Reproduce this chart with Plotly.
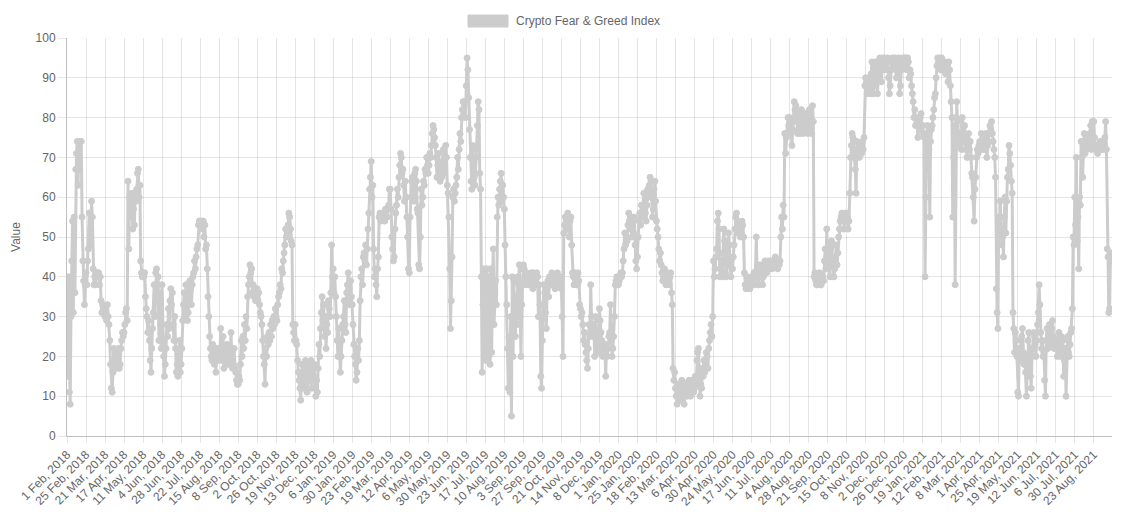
import pandas as pd
import plotly.graph_objects as go

# Daily Crypto Fear & Greed Index values.
# Each row holds 24 consecutive days (one x-axis label interval).
fng_2018 = [
    30,15,40,11,8,30,44,54,31,55,36,67,71,74,63,74,67,74,74,55,44,39,33,38,
    41,38,44,47,56,48,52,59,55,42,38,40,38,41,40,41,41,38,40,34,31,33,32,31,
    30,31,29,33,30,28,24,18,12,11,16,22,17,21,17,20,18,22,17,18,22,24,26,25,
    26,28,31,32,29,64,47,60,58,55,61,52,57,53,60,59,62,66,67,60,63,44,41,40,
    41,40,41,35,32,30,26,29,24,19,16,22,27,31,38,30,41,42,38,40,24,36,28,22,
    38,24,20,15,18,22,28,25,32,27,34,37,33,36,28,24,30,22,16,18,15,20,24,16,
    18,22,29,33,36,30,38,36,29,31,34,39,37,33,38,40,41,44,42,45,47,48,53,54,
    54,53,54,52,54,50,53,47,48,42,35,30,25,22,20,19,23,21,18,20,16,22,19,21,
    22,20,27,19,22,25,17,21,19,22,23,18,20,22,18,26,20,17,18,22,17,16,14,13,
    13,15,14,18,24,20,25,22,28,24,30,27,35,38,40,43,41,42,36,38,35,37,34,36,
    37,34,36,33,31,30,28,24,20,18,13,22,20,25,23,26,24,28,25,29,27,30,28,32,
    30,29,33,35,36,38,37,42,41,44,46,48,52,50,51,53,56,55,52,49,48,28,26,24,
    28,24,23,19,16,14,12,9,15,18,12,14,17,19,13,11,16,18,14,15,19,12,17,15,
    18,12,10,14,11,17,23,20,27,31,35,29,33,25,30,22,28,26,34,32,30,36,48,40,
]
fng_2019 = [
    42,36,40,35,30,24,20,27,22,16,20,24,28,30,34,28,26,36,38,41,37,33,39,35,
    33,28,23,20,18,14,16,22,19,24,34,40,42,38,45,46,44,48,43,47,52,56,62,65,
    69,60,63,47,40,42,38,35,42,45,55,56,54,55,55,55,56,54,57,55,55,57,58,62,
    62,57,50,47,44,45,52,56,58,62,60,65,68,71,70,66,67,63,59,64,60,55,50,42,
    41,55,60,64,65,62,59,66,67,64,57,56,43,42,50,62,58,60,64,63,67,66,70,68,
    66,68,71,70,73,76,78,77,75,73,70,65,68,71,66,64,67,65,69,72,66,70,73,70,
    63,61,55,42,27,34,45,60,62,59,61,63,65,70,67,72,76,74,80,82,84,81,84,80,
    88,95,92,85,77,70,64,62,73,68,65,63,70,72,78,84,82,66,62,40,16,33,42,20,
    38,19,42,36,20,40,18,42,21,38,47,28,36,39,33,55,60,58,62,64,66,59,63,60,
    57,48,40,33,22,12,25,11,30,5,40,20,39,30,25,35,28,40,38,43,30,20,33,42,
    43,42,40,38,41,40,39,38,40,38,41,40,37,41,39,40,38,41,40,30,38,33,15,12,
    24,33,38,36,31,27,37,39,35,40,38,39,41,38,39,40,37,38,39,41,40,38,40,38,
    37,30,20,51,53,55,54,52,56,53,50,54,55,48,41,40,38,41,40,38,38,41,39,33,
    32,30,31,28,24,26,23,21,19,17,22,28,25,38,30,27,25,28,20,30,26,22,24,21,
    32,29,26,24,20,22,23,21,15,23,20,22,25,26,33,24,20,22,25,30,38,39,40,38,
]
fng_2020 = [
    38,39,40,41,40,41,44,47,51,48,50,49,53,56,54,52,55,50,53,51,55,48,44,42,
    45,50,54,56,53,58,55,57,61,58,56,54,58,62,60,63,65,64,60,55,57,62,64,59,
    54,52,50,47,44,46,43,41,39,40,42,40,38,39,41,39,38,40,41,36,33,17,14,16,
    12,10,8,11,13,10,9,12,14,11,10,8,12,13,11,10,12,14,12,10,13,14,12,11,
    12,15,13,19,21,22,14,10,13,12,17,15,19,16,18,21,20,17,22,24,26,28,25,30,
    44,40,42,45,47,54,56,52,40,42,44,40,46,52,49,41,40,43,47,51,48,44,40,42,
    42,45,48,52,55,56,54,51,53,52,50,52,54,53,50,41,38,37,38,40,39,38,37,39,
    38,40,39,41,38,41,50,42,40,38,41,43,41,40,38,40,42,44,43,41,42,44,43,42,
    44,43,42,44,43,44,45,44,43,42,44,43,44,50,55,52,58,55,76,71,75,76,80,78,
    80,78,77,73,77,79,84,82,83,81,76,80,79,76,78,82,80,76,78,79,81,80,77,76,
    79,82,78,80,76,83,79,40,41,39,38,38,40,39,41,38,38,40,40,39,44,47,42,52,
    45,48,43,40,47,49,45,43,40,42,45,48,43,46,50,52,54,55,56,54,55,52,56,55,
    56,55,52,54,61,70,73,76,75,72,70,67,61,74,71,72,70,73,72,71,74,72,75,88,
    90,89,86,88,90,87,86,91,94,90,86,88,93,94,92,86,90,94,95,93,89,94,95,92,
    95,94,92,94,95,90,86,88,92,94,95,93,94,95,92,90,93,94,95,86,88,92,94,95,
]
fng_2021 = [
    94,95,93,95,92,95,94,90,92,91,88,86,84,80,82,78,80,79,75,78,77,80,81,78,
    78,76,75,40,60,75,78,76,72,55,74,77,78,80,82,85,86,90,93,95,94,93,95,92,
    95,93,94,92,94,91,92,93,89,94,92,88,84,80,55,70,78,38,80,84,79,76,75,73,
    76,72,80,78,74,78,72,75,70,73,76,72,74,70,66,65,60,54,62,65,70,72,71,73,
    74,72,76,73,72,75,74,72,76,70,73,74,76,78,77,79,76,74,72,70,65,37,31,27,
    55,50,59,52,48,50,45,55,60,51,59,65,67,73,71,68,64,61,31,27,21,26,24,20,
    11,10,22,19,24,25,27,21,18,20,16,10,16,24,26,20,15,12,20,22,26,25,23,20,
    24,28,31,38,33,26,22,24,20,21,14,10,24,27,22,25,28,26,23,27,29,25,22,24,
    24,22,20,24,26,22,20,25,21,24,15,19,22,10,22,25,21,20,23,26,27,32,50,48,
    60,53,70,49,55,42,60,58,74,70,65,73,76,71,74,72,75,73,74,76,78,72,79,75,
    79,75,72,73,72,71,73,72,74,72,73,74,72,73,75,79,72,47,45,31,32,45,46,44,
]

SERIES_NAME = "Crypto Fear & Greed Index"
Y_TITLE = "Value"
LABEL_STEP = 24  # a date label every 24 points

values = fng_2018 + fng_2019 + fng_2020 + fng_2021

# Category labels: one per day, 3 days missing in the source (mid April 2018)
dates = pd.date_range("2018-02-01", "2021-09-15")
dates = dates.drop(pd.to_datetime(["2018-04-14", "2018-04-15", "2018-04-16"]))
categories = [f"{d.day} {d.strftime('%b')}, {d.year}" for d in dates]

n = min(len(categories), len(values))
categories = categories[:n]
values = values[:n]
tick_labels = categories[::LABEL_STEP]

GREY = "rgb(204,204,204)"
GRID = "rgba(0,0,0,0.1)"
AXIS = "rgba(0,0,0,0.25)"
TXT = "#666666"
FONT = "Liberation Sans, Helvetica, Arial, sans-serif"

fig = go.Figure()
fig.add_trace(go.Scatter(
    x=categories, y=values, mode="lines+markers", name=SERIES_NAME,
    line=dict(color=GREY, width=3),
    marker=dict(size=6, color=GREY, line=dict(color=GREY, width=1)),
    showlegend=False,
))

W, H = 1131, 517
L, R, T, B = 67, 19, 38, 81
pw, ph = W - L - R, H - T - B

def px_x(px):
    return (px - L) / pw

def px_y(py):
    return (H - B - py) / ph

# Chart.js-style legend: filled box + label
fig.add_shape(type="rect", xref="paper", yref="paper",
              x0=px_x(468), x1=px_x(508), y0=px_y(27), y1=px_y(15),
              fillcolor=GREY, line=dict(color=GREY, width=1))
fig.add_annotation(text=SERIES_NAME, xref="paper", yref="paper",
                   x=px_x(514), y=px_y(21), xanchor="left", yanchor="middle",
                   showarrow=False, font=dict(family=FONT, size=12, color=TXT))

fig.update_layout(
    width=W, height=H,
    margin=dict(l=L, r=R, t=T, b=B, pad=0, autoexpand=False),
    paper_bgcolor="white", plot_bgcolor="white",
    font=dict(family=FONT, size=12, color=TXT),
    showlegend=False,
)
fig.update_xaxes(
    type="category", range=[0, n - 1], automargin=False,
    tickmode="array", tickvals=tick_labels, ticktext=tick_labels,
    tickangle=-45, tickfont=dict(size=12, color=TXT),
    showgrid=True, gridcolor=GRID, gridwidth=1,
    ticks="outside", ticklen=6, tickcolor=GRID,
    showline=True, linecolor=AXIS, linewidth=1, zeroline=False,
)
fig.update_yaxes(
    range=[0, 100], dtick=10, automargin=False, tickfont=dict(size=12, color=TXT),
    showgrid=True, gridcolor=GRID, gridwidth=1,
    ticks="outside", ticklen=8, tickcolor=GRID,
    showline=True, linecolor=AXIS, linewidth=1, zeroline=False,
    title=dict(text=Y_TITLE, font=dict(size=12, color=TXT), standoff=12),
)

fig.write_html("out.html", config={"displayModeBar": False},
               post_script="document.body.style.margin='0';")
